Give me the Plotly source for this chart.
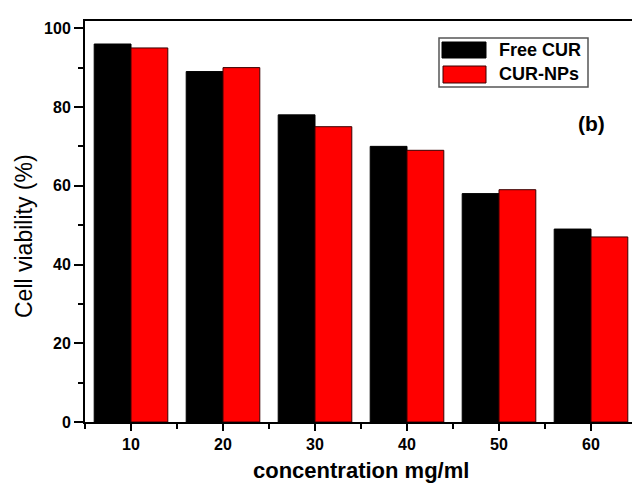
import plotly.graph_objects as go

# Data
concentrations = [10, 20, 30, 40, 50, 60]
tick_labels = ["10", "20", "30", "40", "50", "60"]
free_cur = [96, 89, 78, 70, 58, 49]
cur_nps = [95, 90, 75, 69, 59, 47]
series_names = ["Free CUR", "CUR-NPs"]

FONT = "Liberation Sans, Arial, Helvetica, sans-serif"

# plot area pixel geometry
L, R, T, B = 85, 632, 21, 422
W, H = 632, 487


def px(x):
    return (x - L) / (R - L)


def py(y):
    return (B - y) / (B - T)


fig = go.Figure()
fig.add_trace(go.Bar(x=concentrations, y=free_cur, name=series_names[0],
                     marker=dict(color="#000000", line=dict(color="#000000", width=1))))
fig.add_trace(go.Bar(x=concentrations, y=cur_nps, name=series_names[1],
                     marker=dict(color="#FF0000", line=dict(color="#3a0000", width=1))))

fig.update_layout(
    width=W, height=H,
    margin=dict(l=L, r=W - R, t=T, b=H - B),
    paper_bgcolor="white", plot_bgcolor="white",
    barmode="group", bargap=0.2, bargroupgap=0,
    showlegend=False,
    font=dict(family=FONT, color="black"),
)

fig.update_xaxes(
    range=[5, 5 + (R - L) / 9.2],
    tickmode="array", tickvals=concentrations, ticktext=tick_labels,
    ticks="outside", ticklen=7, tickwidth=2, tickcolor="black",
    tickfont=dict(size=16, family=FONT, weight="bold"),
    showline=True, linewidth=2, linecolor="black", mirror=True,
    showgrid=False, zeroline=False,
    minor=dict(tickmode="linear", tick0=5, dtick=10, ticks="outside",
               ticklen=5, tickwidth=2, tickcolor="black", showgrid=False),
)
fig.update_yaxes(
    range=[0, (B - T) / 78.75 * 20],
    tickmode="linear", tick0=0, dtick=20,
    ticks="outside", ticklen=9, tickwidth=2, tickcolor="black",
    tickfont=dict(size=16, family=FONT, weight="bold"),
    showline=True, linewidth=2, linecolor="black", mirror=False,
    showgrid=False, zeroline=False,
    minor=dict(tickmode="linear", tick0=10, dtick=20, ticks="outside",
               ticklen=5, tickwidth=2, tickcolor="black", showgrid=False),
)

# axis titles
fig.add_annotation(text="concentration mg/ml", xref="paper", yref="paper",
                   x=px(361), y=py(470), showarrow=False,
                   xanchor="center", yanchor="middle",
                   font=dict(size=22, family=FONT, weight="bold"))
fig.add_annotation(text="Cell viability (%)", xref="paper", yref="paper",
                   x=px(24), y=py(236), showarrow=False, textangle=-90,
                   xanchor="center", yanchor="middle",
                   font=dict(size=23, family=FONT))
fig.add_annotation(text="(b)", xref="paper", yref="paper",
                   x=px(591), y=py(123), showarrow=False,
                   xanchor="center", yanchor="middle",
                   font=dict(size=21, family=FONT, weight="bold"))

# legend (drawn manually to match wide swatches)
fig.add_shape(type="rect", xref="paper", yref="paper",
              x0=px(439), x1=px(588), y0=py(87), y1=py(38),
              line=dict(color="#555555", width=1.5), fillcolor="white", layer="above")
fig.add_shape(type="rect", xref="paper", yref="paper",
              x0=px(442), x1=px(486), y0=py(58), y1=py(42),
              line=dict(color="#000000", width=1), fillcolor="#000000", layer="above")
fig.add_shape(type="rect", xref="paper", yref="paper",
              x0=px(443), x1=px(486), y0=py(83), y1=py(66),
              line=dict(color="#3a0000", width=1), fillcolor="#FF0000", layer="above")
for name, yy in zip(series_names, [50, 74]):
    fig.add_annotation(text=name, xref="paper", yref="paper",
                       x=px(497), y=py(yy), showarrow=False,
                       xanchor="left", yanchor="middle",
                       font=dict(size=18, family=FONT, weight="bold"))

fig.write_html("out.html",
               config={"displayModeBar": False},
               post_script="document.body.style.margin='0';document.body.style.overflow='hidden';")
